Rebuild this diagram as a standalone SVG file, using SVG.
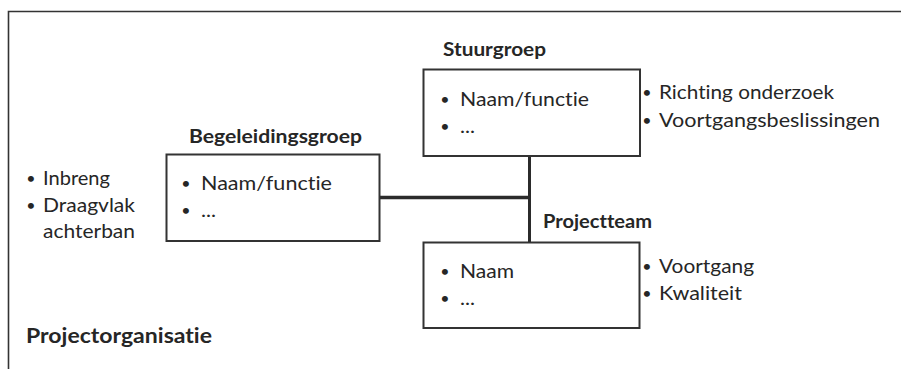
<svg xmlns="http://www.w3.org/2000/svg" width="901" height="369" viewBox="0 0 901 369">
<style>
text{font-variant-ligatures:none}
.t{font-family:Lato,"Liberation Sans",sans-serif;font-size:20px;fill:#262626}
.b{font-family:Lato,"Liberation Sans",sans-serif;font-size:19px;font-weight:bold;fill:#262626}
.bx{fill:#fff;stroke:#333;stroke-width:2}
.bul{font-family:Lato,"Liberation Sans",sans-serif;font-size:16px;fill:#262626;text-anchor:middle}
.c{stroke:#2b2b2b;fill:none}
</style>
<rect width="901" height="369" fill="#fff"/>
<g id="frame">
<path d="M8.5 369 V11.5 H901" fill="none" stroke="#333" stroke-width="1.6"/>
</g>
<g id="connectors">
<line class="c" x1="379" y1="197.5" x2="531" y2="197.5" stroke-width="3.5"/>
<line class="c" x1="529.5" y1="156" x2="529.5" y2="242" stroke-width="3"/>
</g>
<g id="stuurgroep">
<text class="b" x="443" y="56" textLength="103" lengthAdjust="spacingAndGlyphs">Stuurgroep</text>
<rect class="bx" x="423.5" y="69.5" width="216.5" height="86.5"/>
<text class="bul" x="445" y="105">•</text>
<text class="t" x="460" y="106" textLength="129" lengthAdjust="spacingAndGlyphs">Naam/functie</text>
<text class="bul" x="445" y="132">•</text>
<text class="t" x="460" y="133" textLength="15" lengthAdjust="spacingAndGlyphs">...</text>
<text class="bul" x="647" y="98">•</text>
<text class="t" x="659" y="99" textLength="175" lengthAdjust="spacingAndGlyphs">Richting onderzoek</text>
<text class="bul" x="647" y="126">•</text>
<text class="t" x="659" y="127" textLength="221" lengthAdjust="spacingAndGlyphs">Voortgangsbeslissingen</text>
</g>
<g id="begeleidingsgroep">
<text class="b" x="189" y="143" textLength="173" lengthAdjust="spacingAndGlyphs">Begeleidingsgroep</text>
<rect class="bx" x="166.5" y="154.5" width="213" height="86.5"/>
<text class="bul" x="186" y="189">•</text>
<text class="t" x="201" y="190" textLength="131" lengthAdjust="spacingAndGlyphs">Naam/functie</text>
<text class="bul" x="186" y="216">•</text>
<text class="t" x="201" y="217" textLength="15" lengthAdjust="spacingAndGlyphs">...</text>
<text class="bul" x="31" y="184">•</text>
<text class="t" x="43" y="185" textLength="67" lengthAdjust="spacingAndGlyphs">Inbreng</text>
<text class="bul" x="31" y="211">•</text>
<text class="t" x="43" y="212" textLength="92" lengthAdjust="spacingAndGlyphs">Draagvlak</text>
<text class="t" x="43" y="238" textLength="92" lengthAdjust="spacingAndGlyphs">achterban</text>
</g>
<g id="projectteam">
<text class="b" x="543" y="228" textLength="109" lengthAdjust="spacingAndGlyphs">Projectteam</text>
<rect class="bx" x="423.5" y="242.5" width="216" height="85.5"/>
<text class="bul" x="445" y="277">•</text>
<text class="t" x="460" y="278" textLength="54" lengthAdjust="spacingAndGlyphs">Naam</text>
<text class="bul" x="445" y="304">•</text>
<text class="t" x="460" y="305" textLength="15" lengthAdjust="spacingAndGlyphs">...</text>
<text class="bul" x="647" y="272">•</text>
<text class="t" x="659" y="273" textLength="95" lengthAdjust="spacingAndGlyphs">Voortgang</text>
<text class="bul" x="647" y="299">•</text>
<text class="t" x="659" y="300" textLength="83" lengthAdjust="spacingAndGlyphs">Kwaliteit</text>
</g>
<g id="title">
<text class="b" x="26" y="343" style="font-size:21px" textLength="186" lengthAdjust="spacingAndGlyphs">Projectorganisatie</text>
</g>
</svg>
